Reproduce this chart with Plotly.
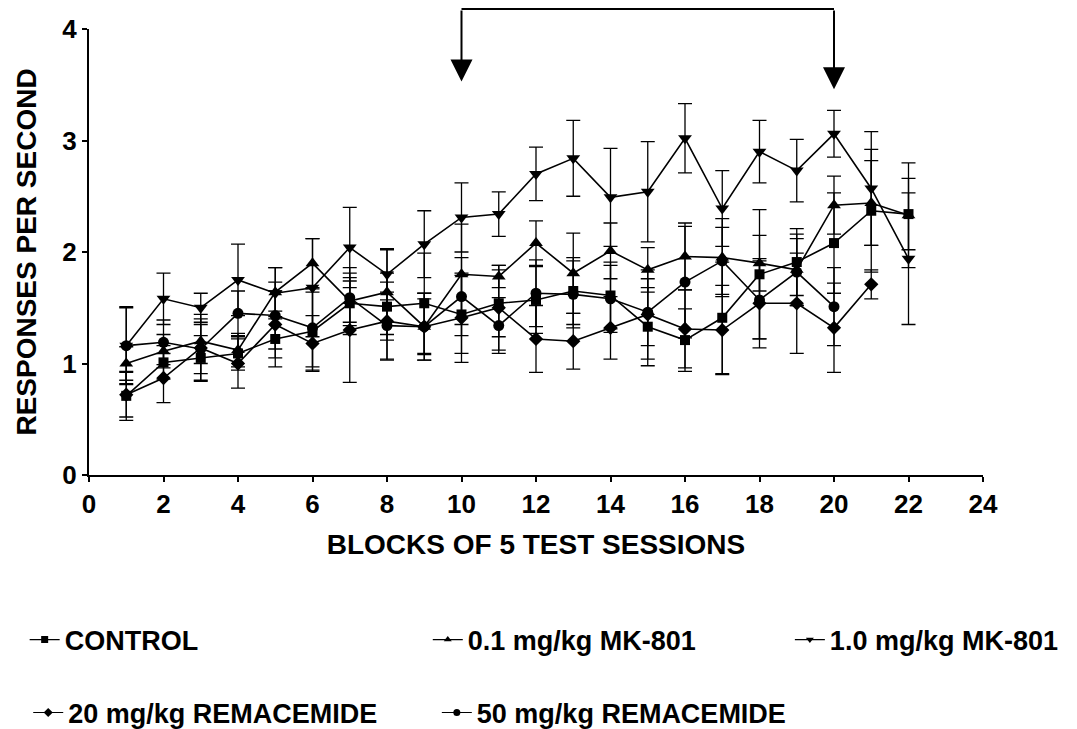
import plotly.graph_objects as go

# Blocks of 5 test sessions
blocks = list(range(1, 23))

# Responses per second (mean) and error per group
control = [0.71, 1.01, 1.05, 1.09, 1.22, 1.29, 1.54, 1.51, 1.54, 1.44, 1.54,
           1.57, 1.65, 1.61, 1.33, 1.21, 1.41, 1.80, 1.91, 2.08, 2.37, 2.34]
control_err = [0.22, 0.15, 0.20, 0.15, 0.25, 0.35, 0.20, 0.30, 0.45, 0.35, 0.30,
               0.30, 0.30, 0.30, 0.35, 0.28, 0.50, 0.58, 0.30, 0.45, 0.55, 0.32]

mk01 = [1.00, 1.11, 1.20, 1.12, 1.64, 1.90, 1.56, 1.64, 1.33, 1.80, 1.78,
        2.08, 1.81, 2.01, 1.84, 1.96, 1.95, 1.90, 1.84, 2.42, 2.44, 2.33]
mk01_err = [0.15, 0.15, 0.20, 0.15, 0.22, 0.22, 0.30, 0.38, 0.30, 0.45, 0.10,
            0.20, 0.36, 0.25, 0.20, 0.30, 0.35, 0.25, 0.32, 0.26, 0.38, 0.47]

mk10 = [1.16, 1.58, 1.50, 1.75, 1.63, 1.68, 2.04, 1.80, 2.07, 2.31, 2.34,
        2.70, 2.84, 2.49, 2.54, 3.02, 2.39, 2.90, 2.73, 3.06, 2.57, 1.94]
mk10_err = [0.35, 0.23, 0.13, 0.32, 0.23, 0.44, 0.36, 0.23, 0.30, 0.31, 0.20,
            0.24, 0.34, 0.44, 0.45, 0.31, 0.34, 0.28, 0.28, 0.21, 0.51, 0.59]

rem20 = [0.72, 0.87, 1.14, 1.00, 1.35, 1.18, 1.30, 1.38, 1.33, 1.41, 1.50,
         1.22, 1.20, 1.32, 1.44, 1.31, 1.30, 1.54, 1.54, 1.32, 1.71]
rem20_err = [0.20, 0.22, 0.30, 0.22, 0.30, 0.25, 0.47, 0.35, 0.25, 0.40, 0.38,
             0.30, 0.25, 0.28, 0.40, 0.35, 0.40, 0.40, 0.45, 0.40, 0.13]

rem50 = [1.16, 1.19, 1.13, 1.45, 1.43, 1.32, 1.59, 1.34, 1.33, 1.60, 1.34,
         1.63, 1.62, 1.58, 1.46, 1.73, 1.92, 1.57, 1.82, 1.51]
rem50_err = [0.34, 0.20, 0.22, 0.20, 0.30, 0.35, 0.22, 0.30, 0.30, 0.35, 0.25,
             0.30, 0.30, 0.30, 0.30, 0.50, 0.30, 0.35, 0.30, 0.35]

series = [
    ("CONTROL", control, control_err, "square", 10),
    ("0.1 mg/kg MK-801", mk01, mk01_err, "triangle-up", 12),
    ("1.0 mg/kg MK-801", mk10, mk10_err, "triangle-down", 12),
    ("20 mg/kg REMACEMIDE", rem20, rem20_err, "diamond", 11),
    ("50 mg/kg REMACEMIDE", rem50, rem50_err, "circle", 11),
]

# Legend placement (container coordinates), one legend box per group
legend_pos = [
    (0.0229, 0.122),
    (0.3972, 0.122),
    (0.7334, 0.122),
    (0.0262, 0.022),
    (0.4056, 0.022),
]

X_RANGE = [0, 24]
Y_RANGE = [0, 4]
MARKED_BLOCKS = [10, 20]
ARROW_TIPS = [3.53, 3.46]
BRACKET_TOP = 4.18

FONT = "Liberation Sans, Arial, sans-serif"

fig = go.Figure()
for i, (name, vals, err, sym, size) in enumerate(series):
    xs = blocks[:len(vals)]
    fig.add_trace(go.Scatter(
        x=xs, y=vals, mode="lines+markers", name=name, showlegend=False,
        line=dict(color="black", width=1.6),
        marker=dict(symbol=sym, size=size, color="black"),
        error_y=dict(type="data", array=err, visible=True,
                     color="black", thickness=1.3, width=7),
    ))
    # legend sample with small marker
    leg = "legend" if i == 0 else f"legend{i + 1}"
    fig.add_trace(go.Scatter(
        x=[None], y=[None], mode="lines+markers", name=name, legend=leg,
        line=dict(color="black", width=1.2),
        marker=dict(symbol=sym, size=7, color="black"),
    ))

legend_common = dict(
    font=dict(family=FONT, size=27, color="black", weight="bold"),
    bgcolor="rgba(0,0,0,0)", borderwidth=0, xanchor="left", yanchor="middle",
    xref="container", yref="container", orientation="h", itemwidth=30,
)
for i, (lx, ly) in enumerate(legend_pos):
    key = "legend" if i == 0 else f"legend{i + 1}"
    fig.update_layout({key: dict(x=lx, y=ly, **legend_common)})

# Bracket joining the two marked blocks, with down arrows
span = X_RANGE[1] - X_RANGE[0]
px0 = (MARKED_BLOCKS[0] - X_RANGE[0]) / span
px1 = (MARKED_BLOCKS[1] - X_RANGE[0]) / span
py = (BRACKET_TOP - Y_RANGE[0]) / (Y_RANGE[1] - Y_RANGE[0])
fig.add_shape(type="line", xref="paper", yref="paper",
              x0=px0, x1=px1, y0=py, y1=py,
              line=dict(color="black", width=2))
for bx, tip in zip(MARKED_BLOCKS, ARROW_TIPS):
    fig.add_annotation(x=bx, y=tip, ax=bx, ay=BRACKET_TOP,
                       xref="x", yref="y", axref="x", ayref="y",
                       showarrow=True, arrowhead=2, arrowsize=2.2, arrowwidth=2,
                       arrowcolor="black", text="")

tick_font = dict(family=FONT, size=26, color="black", weight="bold")
title_font = dict(family=FONT, size=28, color="black", weight="bold")
fig.update_layout(
    width=1077, height=729,
    margin=dict(l=89, r=94, t=29, b=254),
    paper_bgcolor="white", plot_bgcolor="white",
    xaxis=dict(
        range=X_RANGE, tickmode="linear", tick0=0, dtick=2,
        showgrid=False, zeroline=False, showline=True, linecolor="black", linewidth=2,
        ticks="outside", ticklen=5, tickwidth=2, tickcolor="black",
        tickfont=tick_font,
        title=dict(text="BLOCKS OF 5 TEST SESSIONS", font=title_font, standoff=16),
    ),
    yaxis=dict(
        range=Y_RANGE, tickmode="linear", tick0=0, dtick=1,
        showgrid=False, zeroline=False, showline=True, linecolor="black", linewidth=2,
        ticks="outside", ticklen=5, tickwidth=2, tickcolor="black",
        tickfont=tick_font,
        title=dict(text="RESPONSES PER SECOND", font=title_font, standoff=18),
    ),
)

fig.write_html("out.html")
